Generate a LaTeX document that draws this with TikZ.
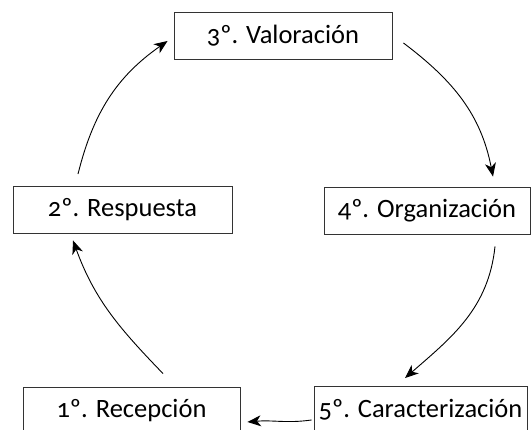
\documentclass[tikz,border=0pt]{standalone}
\usepackage{fontspec}
\setmainfont{Carlito}[Numbers=OldStyle]
\usetikzlibrary{arrows.meta}
\begin{document}
\begin{tikzpicture}[x=1pt,y=1pt]
          \useasboundingbox (0,0) rectangle (532,430);
          \tikzstyle{every node}=[draw=black!80,line width=0.9pt,shape=rectangle,minimum height=47pt,font=\fontsize{26.5}{30}\selectfont];
          %\node (name) at (x,y) [minimum width=w] {text};
          %\draw [flecha] (a) to[out=..,in=..] (b);
          \node (3) at (283,394.5) [minimum width=218pt] {3º. Valoración};
          \node (2) at (122.5,220.5) [minimum width=219pt] {2º. Respuesta};
          \node (4) at (427,219.5) [minimum width=206pt] {4º. Organización};
          \node (1) at (131.5,19.5) [minimum width=217pt] {1º. Recepción};
          \node (5) at (420.5,20.5) [minimum width=213pt] {5º. Caracterización};
          \draw[line width=0.9pt,-{Stealth[length=13.5pt,width=11pt,inset=4pt]}] ([xshift=-44.5pt,yshift=11.5pt]2.north) to[out=76,in=215] ([xshift=-6pt,yshift=-5.5pt]3.west);
          \draw[line width=0.9pt,-{Stealth[length=13.5pt,width=11pt,inset=4pt]}] ([xshift=11pt,yshift=-7.5pt]3.east) to[out=-37,in=101] ([xshift=66pt,yshift=10pt]4.north);
          \draw[line width=0.9pt,-{Stealth[length=13.5pt,width=11pt,inset=4pt]}] ([xshift=68pt,yshift=-12pt]4.south) to[out=-96,in=41] ([xshift=-15.5pt,yshift=7.5pt]5.north);
          \draw[line width=0.9pt,-{Stealth[length=13.5pt,width=11pt,inset=4pt]}] ([xshift=-2pt,yshift=-10.5pt]5.west) to[out=188,in=5] ([xshift=7pt,yshift=-11.5pt]1.east);
          \draw[line width=0.9pt,-{Stealth[length=13.5pt,width=11pt,inset=4pt]}] ([xshift=31.5pt,yshift=13pt]1.north) to[out=134,in=-70] ([xshift=-49.5pt,yshift=-7pt]2.south);
      \end{tikzpicture}
\end{document}
